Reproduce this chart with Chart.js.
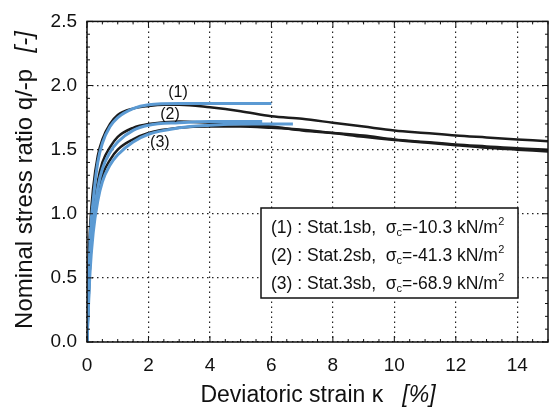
<!DOCTYPE html>
<html><head><meta charset="utf-8">
<script src="https://cdn.jsdelivr.net/npm/chart.js@4/dist/chart.umd.min.js"></script>
<style>html,body{margin:0;padding:0;background:#fff}#wrap{width:550px;height:408px;position:relative}</style>
</head><body><div id="wrap"><canvas id="c"></canvas></div>
<script>
// ---- data ----
const xTickValues = [0, 2, 4, 6, 8, 10, 12, 14];
const yTickValues = [0.0, 0.5, 1.0, 1.5, 2.0, 2.5];

// experiments (black)
const exp1Strain = [0, 0.05, 0.1, 0.2, 0.35, 0.5, 0.75, 1, 1.5, 2, 2.5, 3, 4, 5, 6, 7, 8, 9, 10, 11, 12, 13, 14, 15];
const exp1Ratio  = [0, 0.6, 0.9, 1.2, 1.45, 1.58, 1.7, 1.77, 1.82, 1.84, 1.85, 1.85, 1.83, 1.8, 1.76, 1.74, 1.71, 1.68, 1.65, 1.63, 1.61, 1.595, 1.58, 1.565];
const exp2Strain = [0, 0.1, 0.2, 0.35, 0.5, 0.75, 1, 1.5, 2, 3, 4, 5, 6, 7, 8, 9, 10, 11, 12, 13, 14, 15];
const exp2Ratio  = [0, 0.7, 1.0, 1.25, 1.4, 1.52, 1.6, 1.67, 1.7, 1.72, 1.71, 1.7, 1.68, 1.65, 1.63, 1.61, 1.58, 1.56, 1.54, 1.525, 1.51, 1.5];
const exp3Strain = [0, 0.1, 0.2, 0.35, 0.5, 0.75, 1, 1.5, 2, 3, 4, 5, 6, 7, 8, 9, 10, 11, 12, 13, 14, 15];
const exp3Ratio  = [0, 0.6, 0.9, 1.15, 1.3, 1.42, 1.5, 1.58, 1.63, 1.67, 1.68, 1.68, 1.67, 1.655, 1.63, 1.6, 1.575, 1.555, 1.535, 1.515, 1.5, 1.485];

// simulations (blue)
const sim1Strain = [0, 0.1, 0.2, 0.35, 0.5, 0.75, 1, 1.5, 2, 3, 4, 6];
const sim1Ratio  = [0, 0.8, 1.1, 1.4, 1.55, 1.68, 1.75, 1.82, 1.85, 1.86, 1.86, 1.86];
const sim2Strain = [0, 0.1, 0.2, 0.35, 0.5, 0.75, 1, 1.5, 2, 3, 4, 5.7];
const sim2Ratio  = [0, 0.65, 0.95, 1.2, 1.35, 1.48, 1.56, 1.65, 1.69, 1.71, 1.72, 1.72];
const sim3Strain = [0, 0.1, 0.2, 0.35, 0.5, 0.75, 1, 1.5, 2, 3, 4, 5, 6.7];
const sim3Ratio  = [0, 0.55, 0.85, 1.1, 1.25, 1.38, 1.46, 1.56, 1.62, 1.67, 1.69, 1.7, 1.7];

// curve labels
const curveLabels = ["(1)", "(2)", "(3)"];
const curveLabelX = [2.96, 2.7, 2.37];
const curveLabelY = [1.945, 1.775, 1.555];

// legend
const legendIds   = ["(1)", "(2)", "(3)"];
const legendNames = ["Stat.1sb,", "Stat.2sb,", "Stat.3sb,"];
const legendSigma = ["-10.3", "-41.3", "-68.9"];

const yTitle = "Nominal stress ratio q/-p";
const yUnit = "[-]";
const xTitle = "Deviatoric strain \u03ba";
const xUnit = "[%]";

// ---- chart ----
const FONT = "'Liberation Sans', Arial, Helvetica, sans-serif";
const BLACK = '#1c1c1c';
const BLUE = '#5b9ad3';
const pts = (xs, ys) => xs.map((x, i) => ({x, y: ys[i]}));

function lineDs(xs, ys, color, w) {
  return {data: pts(xs, ys), borderColor: color, borderWidth: w, showLine: true,
    pointRadius: 0, fill: false, cubicInterpolationMode: 'monotone'};
}

const decor = {
  id: 'decor',
  afterDraw(chart) {
    const ctx = chart.ctx, xs = chart.scales.x, ys = chart.scales.y, a = chart.chartArea;
    ctx.save();
    ctx.strokeStyle = '#111';
    ctx.lineWidth = 1.5;
    ctx.strokeRect(a.left, a.top, a.right - a.left, a.bottom - a.top);
    // inward ticks
    ctx.lineWidth = 1;
    for (let v = 0; v <= 15.001; v += 0.5) {
      const p = xs.getPixelForValue(v);
      const major = Math.abs(v / 2 - Math.round(v / 2)) < 1e-6;
      const L = major ? 6 : 3;
      ctx.beginPath();
      ctx.moveTo(p, a.bottom); ctx.lineTo(p, a.bottom - L);
      ctx.moveTo(p, a.top); ctx.lineTo(p, a.top + L);
      ctx.stroke();
    }
    for (let i = 0; i <= 25; i++) {
      const v = i / 10;
      const p = ys.getPixelForValue(v);
      const L = (i % 5 === 0) ? 6 : 3;
      ctx.beginPath();
      ctx.moveTo(a.left, p); ctx.lineTo(a.left + L, p);
      ctx.moveTo(a.right, p); ctx.lineTo(a.right - L, p);
      ctx.stroke();
    }
    // curve labels
    ctx.fillStyle = '#111';
    ctx.font = `16px ${FONT}`;
    ctx.textAlign = 'center'; ctx.textBaseline = 'middle';
    curveLabels.forEach((t, i) => {
      ctx.fillText(t, xs.getPixelForValue(curveLabelX[i]), ys.getPixelForValue(curveLabelY[i]));
    });
    // legend box
    const bx = 261, by = 208, bw = 257, bh = 90;
    ctx.fillStyle = '#fff';
    ctx.fillRect(bx, by, bw, bh);
    ctx.lineWidth = 1.5;
    ctx.strokeRect(bx, by, bw, bh);
    ctx.fillStyle = '#111';
    ctx.textAlign = 'left'; ctx.textBaseline = 'alphabetic';
    const lineY = [233, 261, 289];
    const LF = `17.5px ${FONT}`, SF = `11px ${FONT}`;
    legendIds.forEach((id, i) => {
      let x = 271; const y = lineY[i];
      ctx.font = LF;
      const s1 = `${id} : ${legendNames[i]}  \u03c3`;
      ctx.fillText(s1, x, y); x += ctx.measureText(s1).width;
      ctx.font = SF;
      ctx.fillText('c', x, y + 3); x += ctx.measureText('c').width;
      ctx.font = LF;
      const s2 = `=${legendSigma[i]} kN/m`;
      ctx.fillText(s2, x, y); x += ctx.measureText(s2).width;
      ctx.font = SF;
      ctx.fillText('2', x + 0.5, y - 8);
    });
    // axis titles
    ctx.textBaseline = 'alphabetic';
    const fy1 = `24px ${FONT}`, fy2 = `italic 24px ${FONT}`;
    ctx.font = fy1; const w1 = ctx.measureText(yTitle + '  ').width + 3;
    ctx.font = fy2; const w2 = ctx.measureText(yUnit).width;
    ctx.save();
    ctx.translate(32, 180); ctx.rotate(-Math.PI / 2);
    let sx = -(w1 + w2) / 2;
    ctx.font = fy1; ctx.fillText(yTitle, sx, 0);
    ctx.font = fy2; ctx.fillText(yUnit, sx + w1, 0);
    ctx.restore();
    const fx1 = `23px ${FONT}`, fx2 = `italic 23px ${FONT}`;
    ctx.font = fx1; const w3 = ctx.measureText(xTitle + '   ').width;
    ctx.font = fx2; const w4 = ctx.measureText(xUnit).width;
    sx = 318 - (w3 + w4) / 2;
    ctx.font = fx1; ctx.fillText(xTitle, sx, 402);
    ctx.font = fx2; ctx.fillText(xUnit, sx + w3, 402);
    ctx.restore();
  }
};

new Chart(document.getElementById('c'), {
  type: 'scatter',
  data: {
    datasets: [
      lineDs(sim1Strain, sim1Ratio, BLUE, 3),
      lineDs(sim2Strain, sim2Ratio, BLUE, 3),
      lineDs(sim3Strain, sim3Ratio, BLUE, 3),
      lineDs(exp1Strain, exp1Ratio, BLACK, 2.5),
      lineDs(exp2Strain, exp2Ratio, BLACK, 2.5),
      lineDs(exp3Strain, exp3Ratio, BLACK, 2.5)
    ]
  },
  options: {
    responsive: true, maintainAspectRatio: false, animation: false,
    layout: {padding: {left: 0, right: 2, top: 17, bottom: 0}},
    plugins: {legend: {display: false}, tooltip: {enabled: false}},
    scales: {
      x: {
        type: 'linear', min: 0, max: 15,
        afterBuildTicks: s => { s.ticks = xTickValues.map(v => ({value: v})); },
        afterFit: s => { s.height = 66; },
        ticks: {color: '#111', font: {family: FONT, size: 19}, padding: 12, maxRotation: 0,
          callback: v => String(v)},
        grid: {color: '#222', lineWidth: 1.2, drawTicks: false},
        border: {display: false, dash: [1.5, 3.5]}
      },
      y: {
        type: 'linear', min: 0, max: 2.5,
        afterBuildTicks: s => { s.ticks = yTickValues.map(v => ({value: v})); },
        afterFit: s => { s.width = 87; },
        ticks: {color: '#111', font: {family: FONT, size: 19}, padding: 10,
          callback: v => Number(v).toFixed(1)},
        grid: {color: '#222', lineWidth: 1.2, drawTicks: false},
        border: {display: false, dash: [1.5, 3.5]}
      }
    }
  },
  plugins: [decor]
});
</script>
</body></html>
